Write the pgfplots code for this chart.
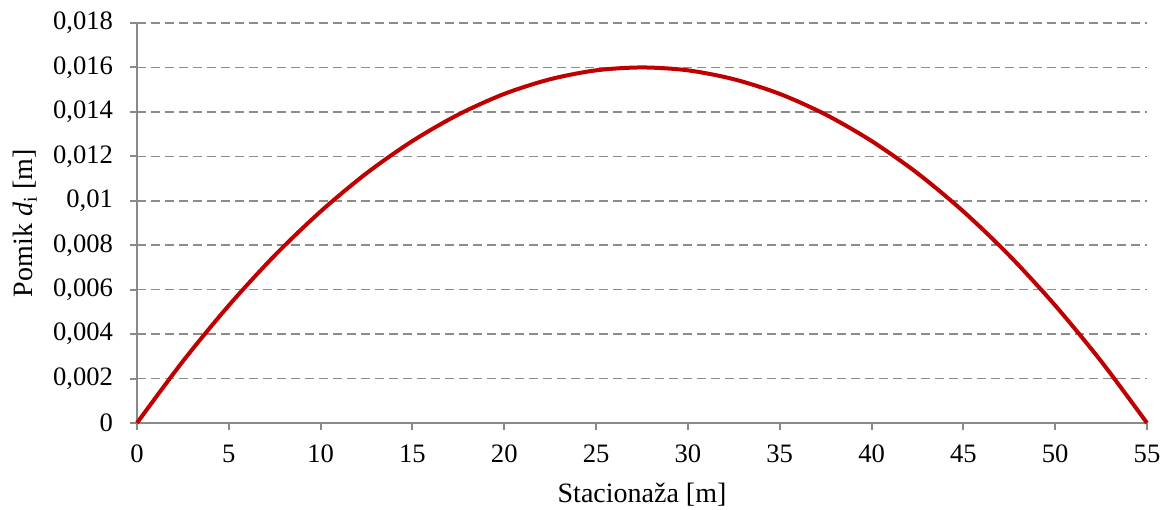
\documentclass[border=0pt]{standalone}
\usepackage{pgfplots}
\pgfplotsset{compat=1.18}
\usepackage{fontspec}
\setmainfont{Liberation Serif}
\usetikzlibrary{calc}
\definecolor{gridgray}{RGB}{140,140,140}
\definecolor{axgray}{RGB}{137,137,137}
\definecolor{linered}{RGB}{192,0,0}
\begin{document}
\begin{tikzpicture}
\begin{axis}[
  name=ax,
  scale only axis,
  width=505pt, height=200pt,
  xmin=0, xmax=55, ymin=0, ymax=0.018,
  xtick={0,5,...,55},
  ytick={0,0.002,0.004,0.006,0.008,0.01,0.012,0.014,0.016,0.018},
  axis lines=left,
  axis line style={-, draw=axgray, line width=1pt},
  tick style={draw=axgray, line width=1pt},
  tick align=outside,
  major tick length=3.5pt,
  ymajorgrids,
  major grid style={draw=gridgray, line width=0.75pt, dash pattern=on 4.5pt off 2.5pt},
  scaled y ticks=false,
  /pgf/number format/assume math mode=true,
  /pgf/number format/use comma,
  /pgf/number format/fixed,
  /pgf/number format/precision=3,
  ticklabel style={font=\fontsize{13.3pt}{15pt}\selectfont},
  xticklabel style={yshift=-4pt},
  yticklabel style={xshift=-5pt},
  xlabel={Stacionaža [m]},
  ylabel={Pomik \textit{d}\textsubscript{i} [m]},
  every axis x label/.style={at={(axis description cs:0.5,-0.178)}, anchor=center, font=\fontsize{14pt}{16pt}\selectfont},
  every axis y label/.style={at={(axis description cs:-0.111,0.5)}, anchor=center, rotate=90, font=\fontsize{14pt}{16pt}\selectfont},
  clip=false,
]
\addplot[linered, line width=2pt, smooth] coordinates {
(0,0) (2.5,0.00278) (5,0.00529) (7.5,0.00754) (10,0.00952) (12.5,0.01124)
(15,0.01269) (17.5,0.01388) (20,0.01481) (22.5,0.01547) (25,0.01587)
(27.5,0.01600) (30,0.01587) (32.5,0.01547) (35,0.01481) (37.5,0.01388)
(40,0.01269) (42.5,0.01124) (45,0.00952) (47.5,0.00754) (50,0.00529)
(52.5,0.00278) (55,0)
};
\end{axis}
\pgfresetboundingbox
\path[use as bounding box] ($(ax.south west)+(-68.5pt,-43pt)$) rectangle ($(ax.north east)+(7.5pt,11.5pt)$);
\end{tikzpicture}
\end{document}
